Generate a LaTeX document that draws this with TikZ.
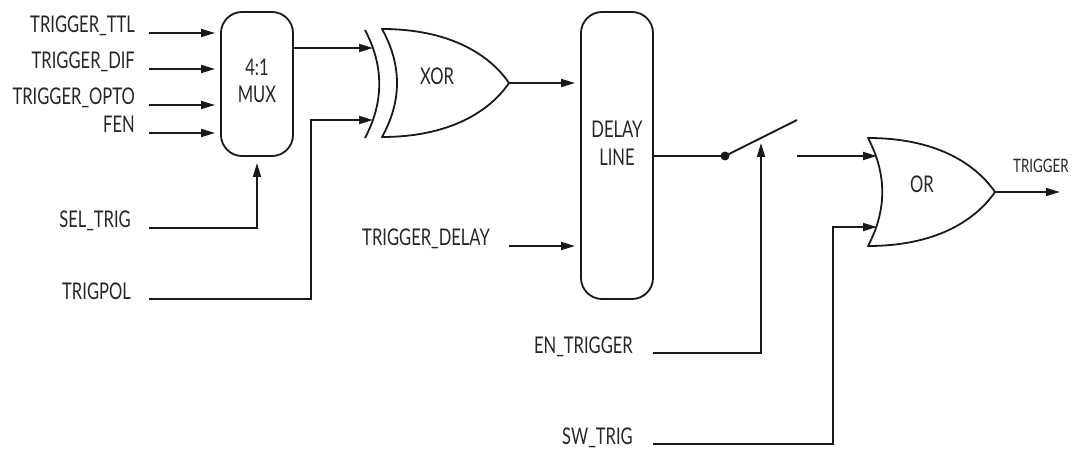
\documentclass[tikz,border=0pt]{standalone}
\usepackage{fontspec}
\setmainfont{Lato}[FakeStretch=0.72]
\usetikzlibrary{arrows.meta}
\begin{document}
\begin{tikzpicture}[x=1pt,y=-1pt,
  wire/.style={line width=1.8pt, color=black!90},
  arr/.style={wire, -{Triangle[length=14pt,width=8pt]}},
  lbl/.style={font=\fontsize{23}{27}\selectfont, inner sep=0pt, text=black!85},
  sm/.style={font=\fontsize{18.5}{22}\selectfont, inner sep=0pt, text=black!85},
  blk/.style={wire, draw, rounded corners=21pt, inner sep=0pt}]
\useasboundingbox (0,0) rectangle (1077,449);
% boxes
\node[blk, minimum width=72pt, minimum height=144pt] (mux) at (257,84) {};
\node[blk, minimum width=72pt, minimum height=287pt] (dly) at (617,155.5) {};
\node[lbl, anchor=base] (muxa) at (257,76) {4:1};
\node[lbl, anchor=base] (muxb) at (257,103) {MUX};
\node[lbl, anchor=base] (dlya) at (617,138) {DELAY};
\node[lbl, anchor=base] (dlyb) at (617,166) {LINE};
% XOR gate
\draw[wire, line join=round] (382,29) .. controls (402,65) and (402,101) .. (382,137)
  .. controls (450,137) and (490,111) .. (509,83)
  .. controls (490,55) and (450,29) .. (382,29) -- cycle;
\draw[wire] (365,30) .. controls (384,66) and (384,102) .. (365,138);
\node[lbl, anchor=base] (xorl) at (437,85) {XOR};
% OR gate
\draw[wire, line join=round] (868,138) .. controls (887,174) and (887,210) .. (868,246)
  .. controls (935,246) and (975,221) .. (995,192)
  .. controls (975,163) and (935,138) .. (868,138) -- cycle;
\node[lbl, anchor=base] (orl) at (922,193) {OR};
% input labels
\node[lbl, anchor=base east] (ttl) at (135,33) {TRIGGER\_TTL};
\node[lbl, anchor=base east] (dif) at (135,69) {TRIGGER\_DIF};
\node[lbl, anchor=base east] (opto) at (135,105) {TRIGGER\_OPTO};
\node[lbl, anchor=base east] (fen) at (135,133) {FEN};
\node[lbl, anchor=base east] (sel) at (131,228) {SEL\_TRIG};
\node[lbl, anchor=base east] (pol) at (131,299) {TRIGPOL};
\node[lbl, anchor=base east] (tdl) at (490,246) {TRIGGER\_DELAY};
\node[lbl, anchor=base east] (ent) at (633,353) {EN\_TRIGGER};
\node[lbl, anchor=base east] (swt) at (633,444) {SW\_TRIG};
\node[sm, anchor=base west] (trg) at (1013,173) {TRIGGER};
% coordinates
\coordinate (ttlS) at (149,33);  \coordinate (ttlE) at (215,33);
\coordinate (difS) at (149,69);  \coordinate (difE) at (215,69);
\coordinate (optS) at (149,105); \coordinate (optE) at (215,105);
\coordinate (fenS) at (149,133); \coordinate (fenE) at (215,133);
\coordinate (selS) at (149,228); \coordinate (selK) at (257,228); \coordinate (selE) at (257,163);
\coordinate (polS) at (149,299); \coordinate (polK) at (311,299); \coordinate (polK2) at (311,120); \coordinate (polE) at (373,120);
\coordinate (muxO) at (293,48);  \coordinate (xorA) at (373,48);
\coordinate (xorO) at (509,83);  \coordinate (dlyI) at (575,83);
\coordinate (tdlS) at (509,246); \coordinate (tdlE) at (575,246);
\coordinate (dlyO) at (653,156); \coordinate (pivot) at (725,156);
\coordinate (swEnd) at (797,120); \coordinate (swOut) at (797,156); \coordinate (orA) at (877,156);
\coordinate (entS) at (653,353); \coordinate (entK) at (761,353); \coordinate (entE) at (761,143);
\coordinate (swtS) at (653,444); \coordinate (swtK) at (833,444); \coordinate (swtK2) at (833,227); \coordinate (orB) at (877,227);
\coordinate (orO) at (995,192); \coordinate (trgE) at (1060,192);
% connectors
\draw[arr] (ttlS) -- (ttlE);
\draw[arr] (difS) -- (difE);
\draw[arr] (optS) -- (optE);
\draw[arr] (fenS) -- (fenE);
\draw[arr] (selS) -- (selK) -- (selE);
\draw[arr] (polS) -- (polK) -- (polK2) -- (polE);
\draw[arr] (muxO) -- (xorA);
\draw[arr] (xorO) -- (dlyI);
\draw[arr] (tdlS) -- (tdlE);
\draw[wire] (dlyO) -- (pivot);
\fill[black!90] (pivot) circle (4.5pt);
\draw[wire] (pivot) -- (swEnd);
\draw[arr] (swOut) -- (orA);
\draw[arr] (entS) -- (entK) -- (entE);
\draw[arr] (swtS) -- (swtK) -- (swtK2) -- (orB);
\draw[arr] (orO) -- (trgE);
\end{tikzpicture}
\end{document}
